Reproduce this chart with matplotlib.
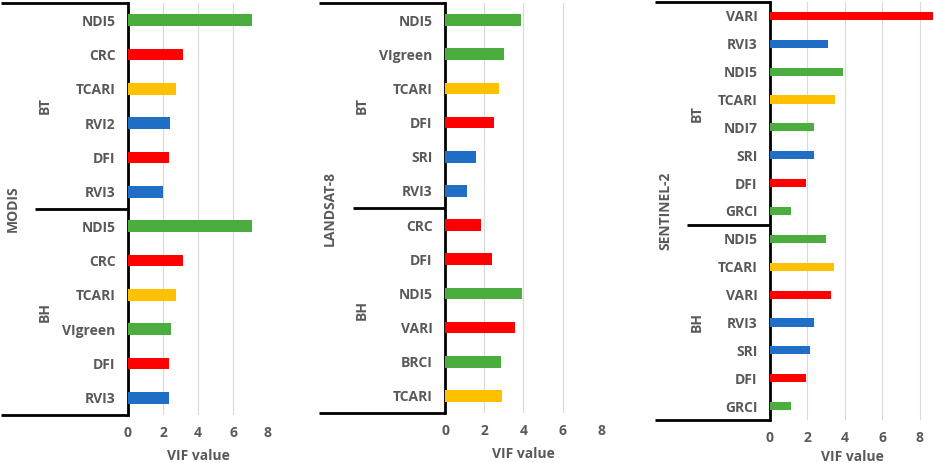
import matplotlib
matplotlib.use("Agg")
import matplotlib.pyplot as plt
from matplotlib.lines import Line2D

plt.rcParams['font.family'] = ['Open Sans', 'DejaVu Sans']

# colours used in the source chart
GREEN = '#4CAD3F'
RED = '#FF0000'
YELLOW = '#FFC000'
BLUE = '#1F6FC6'
TXT = '#595959'
FS = 10

# MODIS
modis_labels = ['NDI5', 'CRC', 'TCARI', 'RVI2', 'DFI', 'RVI3',
                'NDI5', 'CRC', 'TCARI', 'VIgreen', 'DFI', 'RVI3']
modis_vif = [7.07, 3.12, 2.74, 2.42, 2.32, 2.02,
             7.07, 3.12, 2.74, 2.48, 2.32, 2.32]
modis_colors = [GREEN, RED, YELLOW, BLUE, RED, BLUE,
                GREEN, RED, YELLOW, GREEN, RED, BLUE]
modis_nbt = 6

# LANDSAT-8
landsat_labels = ['NDI5', 'VIgreen', 'TCARI', 'DFI', 'SRI', 'RVI3',
                  'CRC', 'DFI', 'NDI5', 'VARI', 'BRCI', 'TCARI']
landsat_vif = [3.89, 3.01, 2.74, 2.50, 1.56, 1.14,
               1.85, 2.41, 3.94, 3.59, 2.87, 2.92]
landsat_colors = [GREEN, GREEN, YELLOW, RED, BLUE, BLUE,
                  RED, RED, GREEN, RED, GREEN, YELLOW]
landsat_nbt = 6

# SENTINEL-2
sentinel_labels = ['VARI', 'RVI3', 'NDI5', 'TCARI', 'NDI7', 'SRI', 'DFI', 'GRCI',
                   'NDI5', 'TCARI', 'VARI', 'RVI3', 'SRI', 'DFI', 'GRCI']
sentinel_vif = [8.70, 3.09, 3.87, 3.49, 2.35, 2.35, 1.93, 1.12,
                2.98, 3.39, 3.24, 2.35, 2.16, 1.93, 1.12]
sentinel_colors = [RED, BLUE, GREEN, YELLOW, GREEN, BLUE, RED, GREEN,
                   GREEN, YELLOW, RED, BLUE, BLUE, RED, GREEN]
sentinel_nbt = 8

xticks = [0, 2, 4, 6, 8]

W, H = 934, 463
fig = plt.figure(figsize=(W / 100, H / 100), dpi=100)


def panel(title, labels, vals, colors, nbt, x0, x1, xmax, top, bottom,
          line_left, mid_left, grp_x, title_x, bar_h, xlab_pad):
    ax = fig.add_axes([x0 / W, 1 - bottom / H, (x1 - x0) / W, (bottom - top) / H])
    n = len(labels)
    y = list(range(n))
    ax.barh(y, vals, height=bar_h, color=colors, zorder=3)
    ax.set_ylim(n - 0.5, -0.5)
    ax.set_xlim(0, xmax)
    ax.set_xticks(xticks)
    ax.set_yticks(y)
    ax.set_yticklabels(labels)
    ax.tick_params(axis='both', length=0, colors=TXT, labelsize=FS)
    ax.tick_params(axis='y', pad=9)
    ax.tick_params(axis='x', pad=8)
    for lab in ax.get_xticklabels() + ax.get_yticklabels():
        lab.set_fontweight('bold')
    ax.grid(axis='x', color='#D9D9D9', lw=0.8, zorder=0)
    for s in ['top', 'right', 'bottom']:
        ax.spines[s].set_visible(False)
    ax.spines['left'].set_linewidth(2)
    ax.spines['left'].set_color('black')
    ax.set_xlabel('VIF value', color=TXT, fontsize=FS, fontweight='bold',
                  labelpad=xlab_pad)

    # multi-level category axis brackets
    tr = ax.get_yaxis_transform()
    fx = lambda px: (px - x0) / (x1 - x0)
    for yy, left in [(-0.5, line_left), (nbt - 0.5, mid_left), (n - 0.5, line_left)]:
        ax.add_line(Line2D([fx(left), 0], [yy, yy], transform=tr, color='black',
                           lw=2, clip_on=False, solid_capstyle='butt'))
    ax.text(fx(grp_x), (nbt - 1) / 2, 'BT', transform=tr, rotation=90,
            ha='center', va='center', color=TXT, fontsize=FS, fontweight='bold')
    ax.text(fx(grp_x), (nbt + n - 1) / 2, 'BH', transform=tr, rotation=90,
            ha='center', va='center', color=TXT, fontsize=FS, fontweight='bold')
    ax.text(fx(title_x), (n - 1) / 2, title, transform=tr, rotation=90,
            ha='center', va='center', color=TXT, fontsize=FS, fontweight='bold')
    return ax


panel('MODIS', modis_labels, modis_vif, modis_colors, modis_nbt,
      128, 268, 8, 3, 415, 1, 35, 45, 13, 0.34, 6.5)
panel('LANDSAT-8', landsat_labels, landsat_vif, landsat_colors, landsat_nbt,
      445, 601.8, 8, 3, 413, 319, 353, 362, 330, 0.34, 6.5)
panel('SENTINEL-2', sentinel_labels, sentinel_vif, sentinel_colors, sentinel_nbt,
      770, 934, 8.75, 2, 420, 655, 687, 697, 665, 0.29, 3.5)

fig.savefig('out.png', dpi=100)
